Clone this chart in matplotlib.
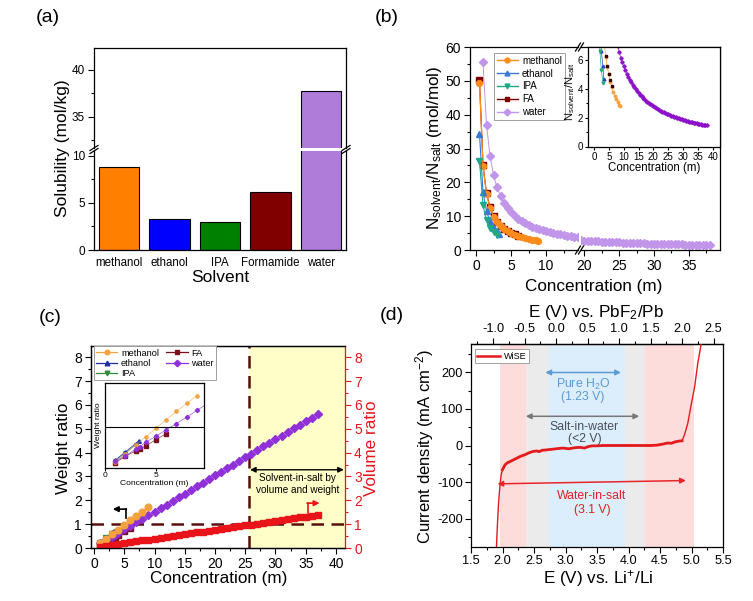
import numpy as np
import matplotlib
matplotlib.use('Agg')
import matplotlib.pyplot as plt
from matplotlib.lines import Line2D
from matplotlib.ticker import MultipleLocator, FixedLocator

plt.rcParams['font.family'] = ['Liberation Sans', 'DejaVu Sans']
plt.rcParams['axes.unicode_minus'] = False
plt.rcParams['mathtext.fontset'] = 'custom'
plt.rcParams['mathtext.rm'] = 'Liberation Sans'
plt.rcParams['mathtext.it'] = 'Liberation Sans:italic'
plt.rcParams['mathtext.bf'] = 'Liberation Sans:bold'
plt.rcParams['xtick.direction'] = 'out'
plt.rcParams['ytick.direction'] = 'out'
plt.rcParams['axes.linewidth'] = 0.9

# ---------------- data ----------------
# (a) solubility
solvents = ['methanol', 'ethanol', 'IPA', 'Formamide', 'water']
solubility = [8.8, 3.3, 3.0, 6.1, 37.7]

# (b) N_solvent / N_salt vs concentration
meth_c = [0.5, 1.0, 1.5, 2.0, 2.5, 3.0, 3.5, 4.0, 4.5, 5.0, 5.5, 6.0, 6.5, 7.0, 7.5, 8.0, 8.5, 8.8]
meth_n = [49.5, 24.8, 16.5, 12.4, 9.9, 8.3, 7.1, 6.2, 5.5, 5.0, 4.5, 4.1, 3.8, 3.5, 3.3, 3.1, 2.9, 2.8]
eth_c = [0.5, 1.0, 1.5, 2.0, 2.5, 3.0, 3.3]
eth_n = [34.2, 17.2, 11.4, 8.6, 6.6, 5.6, 4.7]
ipa_c = [0.5, 1.0, 1.5, 2.0, 2.5, 3.0]
ipa_n = [26.3, 13.2, 8.8, 6.6, 5.3, 4.4]
fa_c = [0.5, 1.0, 1.5, 2.0, 2.5, 3.0, 3.5, 4.0, 4.5, 5.0, 5.5, 6.0]
fa_n = [50.2, 25.1, 16.8, 12.6, 10.0, 8.4, 7.2, 6.3, 5.6, 5.0, 4.6, 4.2]
water_c = [1.0, 1.5, 2.0, 2.5, 3.0, 3.5, 4.0, 4.5, 5.0, 5.5, 6.0, 6.5, 7.0, 7.5,
           8.0, 8.5, 9.0, 9.5, 10.0, 10.5, 11.0, 11.5, 12.0, 12.5, 13.0, 13.5, 14.0,
           14.5, 15.0, 15.5, 16.0, 16.5, 17.0, 17.5, 18.0, 18.5, 19.0, 19.5, 20.0,
           20.5, 21.0, 21.5, 22.0, 22.5, 23.0, 23.5, 24.0, 24.5, 25.0, 25.5, 26.0,
           26.5, 27.0, 27.5, 28.0, 28.5, 29.0, 29.5, 30.0, 30.5, 31.0, 31.5, 32.0,
           32.5, 33.0, 33.5, 34.0, 34.5, 35.0, 35.5, 36.0, 36.5, 37.0, 37.5, 38.0]
water_n = [55.5, 37.0, 27.8, 22.2, 18.5, 15.9, 13.9, 12.3, 11.1, 10.1, 9.25, 8.54,
           7.93, 7.40, 6.94, 6.53, 6.17, 5.84, 5.55, 5.29, 5.05, 4.83, 4.63, 4.44,
           4.27, 4.11, 3.96, 3.83, 3.70, 3.58, 3.47, 3.36, 3.26, 3.17, 3.08, 3.00,
           2.92, 2.85, 2.78, 2.71, 2.64, 2.58, 2.52, 2.47, 2.41, 2.36, 2.31, 2.27,
           2.22, 2.18, 2.13, 2.09, 2.06, 2.02, 1.98, 1.95, 1.91, 1.88, 1.85, 1.82,
           1.79, 1.76, 1.73, 1.71, 1.68, 1.66, 1.63, 1.61, 1.59, 1.56, 1.54, 1.52,
           1.50, 1.48, 1.46]

# (c) weight ratio / volume ratio
wr_meth_c = [1, 2, 3, 4, 5, 6, 7, 8, 9]
wr_meth = [0.19, 0.38, 0.57, 0.77, 0.96, 1.16, 1.35, 1.53, 1.71]
wr_eth_c = [1, 2, 3, 3.3]
wr_eth = [0.23, 0.42, 0.61, 0.68]
wr_ipa_c = [1, 2, 3]
wr_ipa = [0.21, 0.40, 0.58]
wr_fa_c = [1, 2, 3, 3.4, 4, 5, 6]
wr_fa = [0.17, 0.32, 0.44, 0.48, 0.56, 0.70, 0.84]
wr_water_c = [1, 2, 3, 3.4, 4, 5, 6, 7, 8, 9, 10, 11, 12, 13, 14, 15, 16, 17, 18,
              19, 20, 21, 22, 23, 24, 25, 26, 27, 28, 29, 30, 31, 32, 33, 34, 35, 36, 37]
wr_water = [0.20, 0.33, 0.48, 0.54, 0.64, 0.78, 0.93, 1.07, 1.22, 1.37, 1.52, 1.67,
            1.82, 1.98, 2.13, 2.28, 2.43, 2.58, 2.74, 2.89, 3.04, 3.19, 3.34, 3.50,
            3.65, 3.80, 3.95, 4.10, 4.26, 4.41, 4.56, 4.71, 4.86, 5.02, 5.17, 5.32,
            5.47, 5.62]
vr_water_c = [1, 2, 3, 4, 5, 6, 7, 8, 9, 10, 11, 12, 13, 14, 15, 16, 17, 18, 19,
              20, 21, 22, 23, 24, 25, 26, 27, 28, 29, 30, 31, 32, 33, 34, 35, 36, 37]
vr_water = [0.06, 0.09, 0.13, 0.17, 0.20, 0.24, 0.28, 0.32, 0.35, 0.39, 0.43, 0.46,
            0.50, 0.54, 0.58, 0.61, 0.65, 0.69, 0.72, 0.76, 0.80, 0.83, 0.87, 0.91,
            0.95, 0.98, 1.02, 1.06, 1.09, 1.13, 1.17, 1.20, 1.24, 1.28, 1.32, 1.35, 1.39]
sis_conc = 25.7

# (d) LSV of WiSE
E_li = [1.880, 1.905, 1.920, 1.935, 1.950, 1.965, 1.980, 2.000, 2.040, 2.080, 2.120,
        2.200, 2.280, 2.360, 2.420, 2.490, 2.550, 2.580, 2.630, 2.700, 2.800, 2.900,
        2.960, 3.050, 3.150, 3.230, 3.300, 3.360, 3.420, 3.490, 3.600, 3.750, 3.870,
        4.000, 4.150, 4.230, 4.350, 4.450, 4.550, 4.620, 4.680, 4.740, 4.800, 4.850,
        4.890, 4.940, 4.990, 5.050, 5.100, 5.160, 5.200]
j_wise = [-330, -275, -215, -165, -130, -100, -80, -66, -53, -47, -44, -37, -30, -25,
          -20, -16, -15, -17, -13, -12, -10, -8, -7, -9, -6, -5, -7, -3, -1, -1, 0, 0,
          0, 0, 0, 0, 0, 1, 4, 7, 6, 10, 12, 13, 30, 60, 107, 161, 225, 285, 330]
pbf2_offset = 2.85

# ---------------- figure ----------------
W, H = 753, 601
fig = plt.figure(figsize=(W / 100, H / 100), dpi=100)


def ax_px(l, t, r, b, **kw):
    return fig.add_axes([l / W, 1 - b / H, (r - l) / W, (b - t) / H], **kw)


def fig_line(x0, y0, x1, y1, **kw):
    fig.add_artist(Line2D([x0 / W, x1 / W], [1 - y0 / H, 1 - y1 / H],
                          transform=fig.transFigure, **kw))


def ftext(x, y, s, **kw):
    fig.text(x / W, 1 - y / H, s, **kw)


def style(ax, size, pad=2.5):
    ax.tick_params(which='major', length=4, width=0.8, labelsize=size, pad=pad)
    ax.tick_params(which='minor', length=2, width=0.8)


# ---- (a)
bar_colors = ['#FF8000', '#0000FF', '#008000', '#800000', '#B07CDA']
axa_t = ax_px(94, 48, 346, 148)
axa_b = ax_px(94, 151, 346, 250)
xpos = np.arange(len(solvents))
for ax in (axa_t, axa_b):
    ax.bar(xpos, solubility, width=0.8, color=bar_colors, edgecolor='black', linewidth=0.8)
    ax.set_xlim(-0.5, 4.5)
    style(ax, 8.5)
axa_t.set_ylim(31.7, 42.3)
axa_b.set_ylim(0, 10.5)
axa_t.spines['bottom'].set_visible(False)
axa_b.spines['top'].set_visible(False)
axa_t.set_xticks([])
axa_b.set_xticks(xpos)
axa_b.set_xticklabels(solvents, fontsize=8.3)
axa_b.tick_params(axis='x', length=0, pad=5)
axa_t.yaxis.set_major_locator(FixedLocator([35, 40]))
axa_t.yaxis.set_minor_locator(FixedLocator([32.5, 37.5]))
axa_b.yaxis.set_major_locator(FixedLocator([0, 5, 10]))
axa_b.yaxis.set_minor_locator(FixedLocator([2.5, 7.5]))
for xx in (94, 346):
    for yy in (148, 151):
        fig_line(xx - 4, yy + 2.5, xx + 4, yy - 2.5, color='k', lw=0.9)
ftext(62, 148, 'Solubility (mol/kg)', rotation=90, ha='center', va='center', fontsize=12.5)
ftext(220, 278, 'Solvent', ha='center', va='center', fontsize=12.5)
ftext(48, 18, '(a)', ha='center', va='center', fontsize=14)

# ---- (b)
c_meth, c_eth, c_ipa, c_fa, c_wat = '#FF8C1A', '#3A78D8', '#20A88A', '#800000', '#C095EA'
axb1 = ax_px(470, 47, 578, 250)
axb2 = ax_px(581, 47, 720, 250)
for ax in (axb1, axb2):
    ax.plot(water_c, water_n, color=c_wat, marker='D', ms=3.8, lw=0.7, mec=c_wat)
    ax.plot(fa_c, fa_n, color=c_fa, marker='s', ms=4.2, lw=0.8)
    ax.plot(meth_c, meth_n, color=c_meth, marker='o', ms=4.2, lw=0.9)
    ax.plot(eth_c, eth_n, color=c_eth, marker='^', ms=4.2, lw=0.8)
    ax.plot(ipa_c, ipa_n, color=c_ipa, marker='v', ms=4.2, lw=0.8)
    ax.set_ylim(0, 60)
    style(ax, 10)
    ax.yaxis.set_major_locator(MultipleLocator(10))
    ax.yaxis.set_minor_locator(MultipleLocator(5))
    ax.xaxis.set_major_locator(MultipleLocator(5))
    ax.xaxis.set_minor_locator(MultipleLocator(2.5))
axb1.set_xlim(-0.857, 14.57)
axb2.set_xlim(19.57, 39.43)
axb1.spines['right'].set_visible(False)
axb2.spines['left'].set_visible(False)
axb2.tick_params(axis='y', which='both', left=False, labelleft=False)
for yy in (47, 250):
    for xx in (578, 581):
        fig_line(xx - 2.5, yy + 4, xx + 2.5, yy - 4, color='k', lw=0.9)
leg_handles = [
    Line2D([], [], color=c_meth, marker='o', ms=3.5, lw=1, label='methanol'),
    Line2D([], [], color=c_eth, marker='^', ms=3.5, lw=1, label='ethanol'),
    Line2D([], [], color=c_ipa, marker='v', ms=3.5, lw=1, label='IPA'),
    Line2D([], [], color=c_fa, marker='s', ms=3.5, lw=1, label='FA'),
    Line2D([], [], color=c_wat, marker='D', ms=3.5, lw=1, label='water'),
]
lg = axb1.legend(handles=leg_handles, loc='upper left', bbox_to_anchor=(0.22, 0.972),
                 borderaxespad=0, fontsize=7, handlelength=2.2, labelspacing=0.3,
                 handletextpad=0.4, borderpad=0.3, fancybox=False, framealpha=1)
lg.get_frame().set_edgecolor('#A0A0A0')
lg.get_frame().set_linewidth(0.7)
ftext(434, 148, r'N$_{\mathrm{solvent}}$/N$_{\mathrm{salt}}$ (mol/mol)', rotation=90,
      ha='center', va='center', fontsize=12.3)
ftext(594, 287, 'Concentration (m)', ha='center', va='center', fontsize=12.3)
ftext(387, 18, '(b)', ha='center', va='center', fontsize=14)

axbi = ax_px(588, 47, 720, 146.5)
axbi.plot(water_c, water_n, color='#8B10C8', marker='D', ms=1.8, lw=0.5, alpha=0.9)
axbi.plot(meth_c, meth_n, color='#F7A040', marker='o', ms=1.8, lw=0.5)
axbi.plot(fa_c, fa_n, color='#300000', marker='s', ms=1.6, lw=0)
axbi.plot(eth_c, eth_n, color='#2848C0', marker='^', ms=2, lw=0.5)
axbi.plot(ipa_c, ipa_n, color=c_ipa, marker='v', ms=2, lw=0.5)
axbi.set_xlim(-2, 42.4)
axbi.set_ylim(0, 6.9)
style(axbi, 7.0, pad=1.2)
axbi.tick_params(which='major', length=2.5)
axbi.tick_params(which='minor', length=1.5)
axbi.xaxis.set_major_locator(MultipleLocator(5))
axbi.yaxis.set_major_locator(MultipleLocator(2))
axbi.yaxis.set_minor_locator(MultipleLocator(1))
ftext(570, 92, r'N$_{\mathrm{solvent}}$/N$_{\mathrm{salt}}$', rotation=90,
      ha='center', va='center', fontsize=8.0)
ftext(654, 168.5, 'Concentration (m)', ha='center', va='center', fontsize=8.3)

# ---- (c)
cc_meth, cc_eth, cc_ipa, cc_fa, cc_wat = '#F4A23F', '#1A2EA8', '#2E8B3E', '#7A0F1E', '#9030D8'
axc = ax_px(91, 346, 345, 548)
axc.set_xlim(-0.5, 41.5)
axc.set_ylim(0, 8.47)
axc.axvspan(sis_conc, 41.5, color='#FFFDC8', zorder=0, lw=0)
axc.axvline(sis_conc, color='#5A0F0F', lw=1.8, dashes=(5, 3), zorder=1)
axc.axhline(1, color='#5A0F0F', lw=1.8, dashes=(5, 3), zorder=1)
axc.plot(wr_fa_c, wr_fa, ls='none', color=cc_fa, marker='s', ms=4.3, zorder=3)
axc.plot(wr_ipa_c, wr_ipa, ls='none', color=cc_ipa, marker='v', ms=4.3, zorder=3)
axc.plot(wr_eth_c, wr_eth, ls='none', color=cc_eth, marker='^', ms=4.3, zorder=3)
axc.plot(wr_water_c, wr_water, ls='none', color=cc_wat, marker='D', ms=4.0, zorder=3)
axc.plot(wr_meth_c, wr_meth, ls='none', color=cc_meth, marker='o', ms=4.8, zorder=4)
axc.plot(vr_water_c, vr_water, ls='none', color='#E8141A', marker='s', ms=4.0, zorder=4)
style(axc, 10)
axc.xaxis.set_major_locator(MultipleLocator(5))
axc.xaxis.set_minor_locator(MultipleLocator(2.5))
axc.yaxis.set_major_locator(MultipleLocator(1))
axc.yaxis.set_minor_locator(MultipleLocator(0.5))
axc.spines['right'].set_visible(False)
axc2 = axc.twinx()
axc2.set_ylim(0, 8.47)
axc2.yaxis.set_major_locator(MultipleLocator(1))
axc2.yaxis.set_minor_locator(MultipleLocator(0.5))
style(axc2, 10)
axc2.tick_params(axis='y', which='both', colors='#E8141A')
axc2.spines['right'].set_color('#E8141A')
# arrows
axc.plot([5.3, 5.3], [1.26, 1.63], color='k', lw=1.2, zorder=5)
axc.annotate('', xy=(3.1, 1.63), xytext=(5.36, 1.63),
             arrowprops=dict(arrowstyle='-|>', color='k', lw=1.2, mutation_scale=8,
                             shrinkA=0, shrinkB=0), zorder=5)
axc.plot([35.3, 35.3], [1.47, 1.88], color='#E8141A', lw=1.2, zorder=5)
axc.annotate('', xy=(37.3, 1.88), xytext=(35.24, 1.88),
             arrowprops=dict(arrowstyle='-|>', color='#E8141A', lw=1.2, mutation_scale=8,
                             shrinkA=0, shrinkB=0), zorder=5)
axc.annotate('', xy=(25.8, 3.28), xytext=(41.3, 3.28),
             arrowprops=dict(arrowstyle='<|-|>', color='k', lw=1.0, mutation_scale=8,
                             shrinkA=0, shrinkB=0), zorder=5)
axc.text(33.6, 2.68, 'Solvent-in-salt by\nvolume and weight', ha='center', va='center',
         fontsize=7.2, linespacing=1.3, zorder=5)
leg_c = [
    Line2D([], [], color=cc_meth, marker='o', ms=3.3, lw=0.9, label='methanol'),
    Line2D([], [], color=cc_eth, marker='^', ms=3.3, lw=0.9, label='ethanol'),
    Line2D([], [], color=cc_ipa, marker='v', ms=3.3, lw=0.9, label='IPA'),
    Line2D([], [], color=cc_fa, marker='s', ms=3.3, lw=0.9, label='FA'),
    Line2D([], [], color=cc_wat, marker='D', ms=3.3, lw=0.9, label='water'),
]
lgc = axc2.legend(handles=leg_c, loc='upper left', bbox_to_anchor=(0.012, 0.998), ncol=2,
                  borderaxespad=0, fontsize=6.6, handlelength=2.3, labelspacing=0.12,
                  handletextpad=0.4, columnspacing=0.8, borderpad=0.25, fancybox=False,
                  framealpha=1)
lgc.get_frame().set_edgecolor('#A0A0A0')
lgc.get_frame().set_linewidth(0.7)
ftext(64, 448, 'Weight ratio', rotation=90, ha='center', va='center', fontsize=12.3)
ftext(372, 448, 'Volume ratio', rotation=90, ha='center', va='center', fontsize=12.3,
      color='#E8141A')
ftext(219, 578, 'Concentration (m)', ha='center', va='center', fontsize=12.3)
ftext(50, 317, '(c)', ha='center', va='center', fontsize=14)

axci = ax_px(105, 383, 204, 468)
axci.plot(wr_fa_c, wr_fa, color=cc_fa, marker='s', ms=2.6, lw=0.4)
axci.plot(wr_ipa_c, wr_ipa, color=cc_ipa, marker='v', ms=2.6, lw=0.4)
axci.plot(wr_eth_c, wr_eth, color=cc_eth, marker='^', ms=2.6, lw=0.5)
axci.plot(wr_meth_c, wr_meth, color=cc_meth, marker='o', ms=2.4, lw=0.4, alpha=0.9)
axci.plot(wr_water_c, wr_water, color=cc_wat, marker='D', ms=2.2, lw=0.4)
axci.axhline(1, color='k', lw=0.8)
axci.set_xlim(0, 9.7)
axci.set_ylim(0.05, 2.0)
axci.set_xticks([0, 5])
axci.set_yticks([])
axci.tick_params(axis='x', labelsize=6.0, length=2, pad=0.8)
axci.set_xlabel('Concentration (m)', fontsize=6.1, labelpad=0.5)
axci.set_ylabel('Weight ratio', fontsize=6.1, labelpad=2)

# ---- (d)
axd = ax_px(471, 344, 723, 547)
axd.set_xlim(1.5, 5.5)
axd.set_ylim(-278, 278)
axd.axvspan(1.96, 5.04, color='#FDDCDC', lw=0, zorder=0)
axd.axvspan(2.37, 4.26, color='#EBEBEB', lw=0, zorder=0)
axd.axvspan(2.74, 3.94, color='#DCEEFC', lw=0, zorder=0)
axd.plot(E_li, j_wise, color='#E41A1C', lw=1.0, label='WiSE', zorder=3)
mid = [i for i, e in enumerate(E_li) if 2.0 <= e <= 4.85]
axd.plot([E_li[i] for i in mid], [j_wise[i] for i in mid], color='#E41A1C', lw=2.0, zorder=3)
style(axd, 9.2, pad=2.0)
axd.xaxis.set_major_locator(MultipleLocator(0.5))
axd.xaxis.set_minor_locator(MultipleLocator(0.25))
axd.yaxis.set_major_locator(MultipleLocator(100))
axd.yaxis.set_minor_locator(MultipleLocator(50))
axd.xaxis.set_major_formatter(matplotlib.ticker.FormatStrFormatter('%.1f'))
secx = axd.secondary_xaxis('top', functions=(lambda x: x - pbf2_offset,
                                             lambda x: x + pbf2_offset))
secx.xaxis.set_major_locator(MultipleLocator(0.5))
secx.xaxis.set_minor_locator(MultipleLocator(0.25))
secx.xaxis.set_major_formatter(matplotlib.ticker.FormatStrFormatter('%.1f'))
secx.tick_params(which='major', length=4, width=0.8, labelsize=9.2, pad=2.5)
secx.tick_params(which='minor', length=2, width=0.8)


def dbl_arrow(x0, y0, x1, y1, col):
    axd.annotate('', xy=(x0, y0), xytext=(x1, y1),
                 arrowprops=dict(arrowstyle='<|-|>', color=col, lw=1.1, mutation_scale=8,
                                 shrinkA=0, shrinkB=0), zorder=4)


dbl_arrow(2.68, 200, 3.88, 200, '#5B9BD5')
axd.text(3.28, 168, r'Pure H$_2$O', color='#5B9BD5', ha='center', va='center', fontsize=8.8)
axd.text(3.28, 134, '(1.23 V)', color='#5B9BD5', ha='center', va='center', fontsize=8.8)
dbl_arrow(2.37, 80, 4.17, 80, '#777777')
axd.text(3.30, 52, 'Salt-in-water', color='#4A4F5A', ha='center', va='center', fontsize=8.8)
axd.text(3.30, 19, '(<2 V)', color='#4A4F5A', ha='center', va='center', fontsize=8.8)
dbl_arrow(1.92, -105, 4.91, -96, '#E8262A')
axd.text(3.42, -137, 'Water-in-salt', color='#E02020', ha='center', va='center', fontsize=8.8)
axd.text(3.42, -176, '(3.1 V)', color='#E02020', ha='center', va='center', fontsize=8.8)
lgd = axd.legend(handles=[Line2D([], [], color='#E41A1C', lw=1.8, label='WiSE')],
                 loc='upper left', bbox_to_anchor=(0.015, 0.975), borderaxespad=0,
                 fontsize=6.5, handlelength=2.5, handletextpad=0.4, borderpad=0.3,
                 fancybox=False, framealpha=1)
lgd.get_frame().set_edgecolor('#A0A0A0')
lgd.get_frame().set_linewidth(0.7)
ftext(425, 446, r'Current density (mA cm$^{-2}$)', rotation=90, ha='center', va='center',
      fontsize=12.0)
ftext(598, 578, r'E (V) vs. Li$^{+}$/Li', ha='center', va='center', fontsize=12.3)
ftext(596, 312, r'E (V) vs. PbF$_2$/Pb', ha='center', va='center', fontsize=12.3)
ftext(392, 315, '(d)', ha='center', va='center', fontsize=14)

fig.savefig('out.png', dpi=100)
